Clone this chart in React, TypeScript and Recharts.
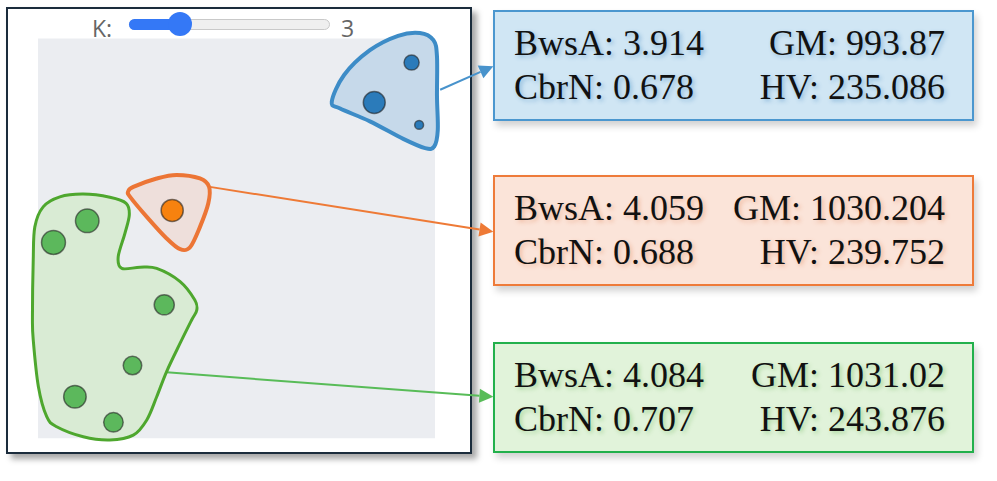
import React from 'react';
import { ScatterChart, Scatter, XAxis, YAxis, ZAxis, ReferenceArea, ReferenceLine } from 'recharts';

// cluster points (x, y in plot units, z = marker area)
const bluePoints = [
  { x: 9.41, y: 9.4, z: 179 },
  { x: 8.47, y: 8.4, z: 377 },
  { x: 9.6, y: 7.84, z: 62 },
];
const orangePoints = [{ x: 3.38, y: 5.7, z: 384 }];
const greenPoints = [
  { x: 1.24, y: 5.44, z: 434 },
  { x: 0.39, y: 4.9, z: 449 },
  { x: 3.18, y: 3.34, z: 317 },
  { x: 2.38, y: 1.82, z: 269 },
  { x: 0.93, y: 1.04, z: 398 },
  { x: 1.9, y: 0.4, z: 299 },
];

// hull outlines around each cluster
const blueHull = [
  { x: 7.4, y: 8.42 }, { x: 7.71, y: 9.09 }, { x: 8.36, y: 9.71 }, { x: 9.07, y: 10.07 },
  { x: 9.62, y: 10.14 }, { x: 9.96, y: 9.96 }, { x: 10.05, y: 9.55 }, { x: 10.05, y: 8.55 },
  { x: 10.07, y: 7.71 }, { x: 9.98, y: 7.3 }, { x: 9.75, y: 7.26 }, { x: 9.2, y: 7.49 },
  { x: 8.36, y: 7.93 }, { x: 7.61, y: 8.25 },
];
const orangeHull = [
  { x: 2.27, y: 6.17 }, { x: 2.4, y: 6.29 }, { x: 2.99, y: 6.5 }, { x: 3.49, y: 6.59 },
  { x: 4.08, y: 6.5 }, { x: 4.31, y: 6.29 }, { x: 4.29, y: 5.88 }, { x: 4.08, y: 5.29 },
  { x: 3.83, y: 4.78 }, { x: 3.58, y: 4.73 }, { x: 3.24, y: 5.0 }, { x: 2.74, y: 5.54 },
  { x: 2.32, y: 6.04 },
];
const greenHull = [
  { x: -0.14, y: 3.04 }, { x: -0.12, y: 4.46 }, { x: -0.08, y: 5.29 }, { x: 0.13, y: 5.79 },
  { x: 0.55, y: 6.04 }, { x: 1.14, y: 6.11 }, { x: 1.81, y: 6.03 }, { x: 2.22, y: 5.88 },
  { x: 2.3, y: 5.59 }, { x: 2.19, y: 5.13 }, { x: 2.02, y: 4.54 }, { x: 2.11, y: 4.25 },
  { x: 2.57, y: 4.28 }, { x: 2.99, y: 4.25 }, { x: 3.58, y: 3.92 }, { x: 3.95, y: 3.46 },
  { x: 4.0, y: 3.21 }, { x: 3.87, y: 2.96 }, { x: 3.58, y: 2.38 }, { x: 3.24, y: 1.67 },
  { x: 2.99, y: 1.04 }, { x: 2.74, y: 0.46 }, { x: 2.4, y: 0.08 }, { x: 1.81, y: -0.04 },
  { x: 1.14, y: 0.04 }, { x: 0.47, y: 0.29 }, { x: 0.22, y: 0.54 }, { x: 0.01, y: 1.29 },
  { x: -0.12, y: 2.46 },
];

// arrow anchors: hull edge -> summary box edge
const arrowFrom = [[10.13, 8.72], [4.33, 6.29], [3.24, 1.65]];
const arrowTo = [[11.47, 9.31], [11.47, 5.17], [11.47, 1.04]];

// cluster summaries
const bwsA = ['3.914', '4.059', '4.084'];
const gm = ['993.87', '1030.204', '1031.02'];
const cbrN = ['0.678', '0.688', '0.707'];
const hv = ['235.086', '239.752', '243.876'];

const kValue = 3;
const kMin = 1;
const kMax = 10;

const pointColors = ['#2b7bba', '#f7820f', '#5cb85c'];
const hullStroke = ['#3d8cc7', '#ec7535', '#4ea72e'];
const hullFill = ['#c6d9ea', '#eedfdb', '#d9ebd4'];
const arrowColors = ['#4893cc', '#ee7a36', '#58bc58'];
const boxFill = ['#d0e6f4', '#fbe4d9', '#e1f3da'];
const boxBorder = ['#4b97cf', '#ee7b3a', '#22b04c'];
const textGlow = ['rgba(60,130,190,0.45)', 'rgba(225,120,70,0.4)', 'rgba(80,170,60,0.4)'];
const boxTops = [10, 175, 342];

const closedPath = (pts: { x: number; y: number }[]) => {
  const n = pts.length;
  let d = `M${pts[0].x},${pts[0].y}`;
  for (let i = 0; i < n; i++) {
    const p0 = pts[(i - 1 + n) % n];
    const p1 = pts[i];
    const p2 = pts[(i + 1) % n];
    const p3 = pts[(i + 2) % n];
    const c1x = p1.x + (p2.x - p0.x) / 6;
    const c1y = p1.y + (p2.y - p0.y) / 6;
    const c2x = p2.x - (p3.x - p1.x) / 6;
    const c2y = p2.y - (p3.y - p1.y) / 6;
    d += ` C${c1x},${c1y} ${c2x},${c2y} ${p2.x},${p2.y}`;
  }
  return d + ' Z';
};

const Blob = (props: any) => {
  const pts = (props.points || []).filter((p: any) => p && p.x != null && p.y != null);
  if (pts.length < 3) return null;
  return (
    <path
      d={closedPath(pts)}
      fill={props.hullFill}
      stroke={props.hullStroke}
      strokeWidth={props.hullWidth}
      strokeLinejoin="round"
    />
  );
};

const arrowShape = (color: string) => (p: any) => {
  const { x1, y1, x2, y2 } = p;
  const len = Math.hypot(x2 - x1, y2 - y1);
  const ux = (x2 - x1) / len;
  const uy = (y2 - y1) / len;
  const head = 14;
  const half = 7;
  const bx = x2 - ux * head;
  const by = y2 - uy * head;
  return (
    <g>
      <line x1={x1} y1={y1} x2={bx} y2={by} stroke={color} strokeWidth={2} />
      <polygon
        points={`${x2},${y2} ${bx - uy * half},${by + ux * half} ${bx + uy * half},${by - ux * half}`}
        fill={color}
      />
    </g>
  );
};

const hide = () => <g />;

const sliderLabel: React.CSSProperties = {
  position: 'absolute',
  top: 14,
  fontFamily: '"Open Sans", sans-serif',
  fontSize: 23,
  color: '#666',
  lineHeight: '28px',
};

const App = () => {
  const hulls = [blueHull, orangeHull, greenHull];
  const clusters = [bluePoints, orangePoints, greenPoints];
  const trackLeft = 129;
  const trackWidth = 201;
  const thumbX = trackLeft + 12 + ((kValue - kMin) / (kMax - kMin)) * (trackWidth - 24);

  return (
    <div style={{ position: 'absolute', left: 0, top: 0, width: 997, height: 481, background: '#fff' }}>
      {/* left panel */}
      <div
        style={{
          position: 'absolute',
          left: 6,
          top: 7,
          width: 462,
          height: 443,
          border: '2px solid #1b2c3c',
          background: '#fff',
          boxShadow: '5px 5px 6px rgba(0,0,0,0.35)',
        }}
      />
      {/* K slider */}
      <div style={{ ...sliderLabel, left: 92 }}>K:</div>
      <div
        style={{
          position: 'absolute',
          left: trackLeft,
          top: 19,
          width: trackWidth,
          height: 11,
          boxSizing: 'border-box',
          borderRadius: 6,
          background: '#efefef',
          border: '1px solid #c9c9c9',
        }}
      />
      <div
        style={{
          position: 'absolute',
          left: trackLeft,
          top: 19,
          width: thumbX - trackLeft,
          height: 11,
          borderRadius: 6,
          background: '#3478f6',
        }}
      />
      <div
        style={{
          position: 'absolute',
          left: thumbX - 12,
          top: 12,
          width: 24,
          height: 24,
          borderRadius: 12,
          background: '#3478f6',
        }}
      />
      <div style={{ ...sliderLabel, left: 341 }}>{kValue}</div>

      {/* summary boxes */}
      {bwsA.map((_, i) => (
        <div
          key={i}
          style={{
            position: 'absolute',
            left: 493,
            top: boxTops[i],
            width: 481,
            height: 111,
            boxSizing: 'border-box',
            border: `2px solid ${boxBorder[i]}`,
            background: boxFill[i],
            boxShadow: '3px 5px 7px rgba(0,0,0,0.18)',
            padding: '9px 27px 0 19px',
            fontFamily: '"Liberation Serif", "Times New Roman", serif',
            fontSize: 36,
            lineHeight: '44px',
            color: '#111',
            textShadow: `2px 2px 4px ${textGlow[i]}`,
            whiteSpace: 'nowrap',
          }}
        >
          <div style={{ display: 'flex', justifyContent: 'space-between' }}>
            <span>BwsA: {bwsA[i]}</span>
            <span>GM: {gm[i]}</span>
          </div>
          <div style={{ display: 'flex', justifyContent: 'space-between' }}>
            <span>CbrN: {cbrN[i]}</span>
            <span>HV: {hv[i]}</span>
          </div>
        </div>
      ))}

      {/* scatter + hulls + arrows */}
      <div style={{ position: 'absolute', left: 0, top: 0 }}>
        <ScatterChart
          width={997}
          height={481}
          margin={{ top: 18.6, right: 542.15, bottom: 22.7, left: 18.15 }}
        >
          <XAxis type="number" dataKey="x" domain={[-0.5, 10.5]} hide />
          <YAxis type="number" dataKey="y" domain={[-0.5, 10.5]} hide />
          <ZAxis type="number" dataKey="z" domain={[0, 500]} range={[0, 500]} />
          <ReferenceArea x1={0} x2={10} y1={0} y2={10} fill="#ebedf1" fillOpacity={1} stroke="none" />
          {hulls.map((h, i) => (
            <Scatter
              key={`hull-${i}`}
              data={h}
              line={<Blob hullFill={hullFill[i]} hullStroke={hullStroke[i]} hullWidth={i === 2 ? 3 : 4} />}
              shape={hide}
              isAnimationActive={false}
            />
          ))}
          {arrowFrom.map((a, i) => (
            <ReferenceLine
              key={`arrow-${i}`}
              segment={[
                { x: a[0], y: a[1] },
                { x: arrowTo[i][0], y: arrowTo[i][1] },
              ]}
              ifOverflow="visible"
              shape={arrowShape(arrowColors[i])}
            />
          ))}
          {clusters.map((c, i) => (
            <Scatter
              key={`pts-${i}`}
              data={c}
              fill={pointColors[i]}
              stroke="rgba(35,35,35,0.6)"
              strokeWidth={1.5}
              isAnimationActive={false}
            />
          ))}
        </ScatterChart>
      </div>
    </div>
  );
};

export default App;
